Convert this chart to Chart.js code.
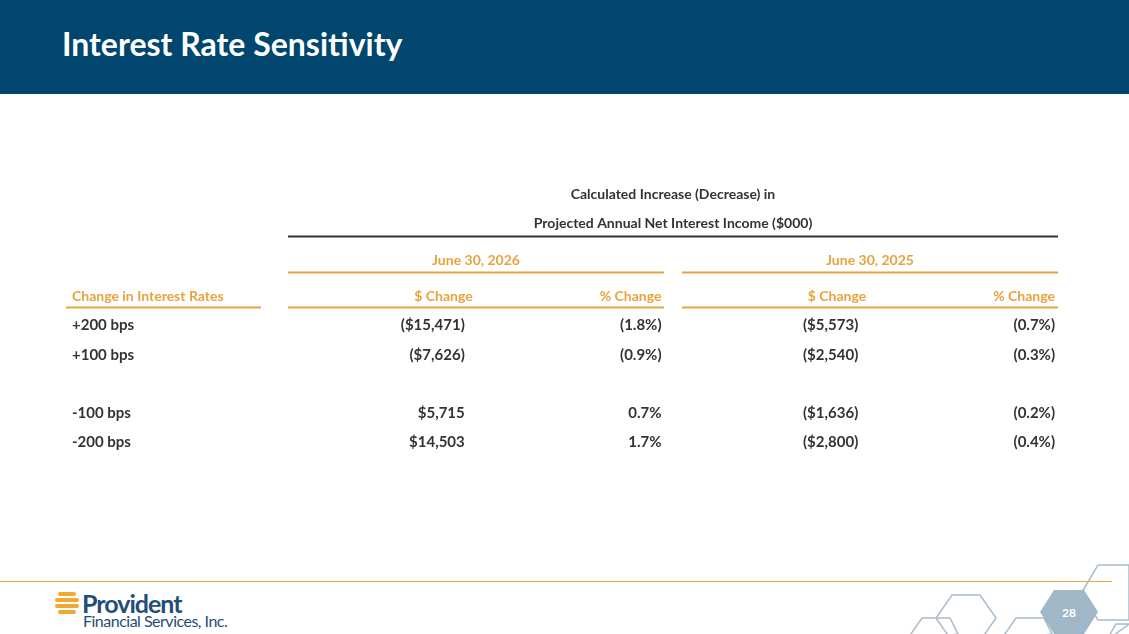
<!DOCTYPE html>
<html><head><meta charset="utf-8">
<script src="https://cdn.jsdelivr.net/npm/chart.js@4"></script>
<style>
body{margin:0;width:1129px;height:634px;overflow:hidden;background:#fff;font-family:Lato,sans-serif;position:relative}
#bar{position:absolute;left:0;top:0;width:1129px;height:94px;background:#00466e}
#bar h1{margin:0;position:absolute;left:62px;top:24px;color:#fff;font:bold 32px Lato,sans-serif}
#foot{position:absolute;left:0;top:581px;width:1112px;height:1px;background:#e8a33d}
#logo{position:absolute;left:82px;top:588px;color:#1f4e79;font:bold 25px "Liberation Sans Narrow",Lato,sans-serif;letter-spacing:-1px}
#logo2{position:absolute;left:83px;top:611px;color:#1f4e79;font:16px "Liberation Sans Narrow",Lato,sans-serif;letter-spacing:-0.5px}
#wrap{position:absolute;left:0;top:0;width:1129px;height:634px}
svg{position:absolute;left:0;top:0}
</style></head><body>
<div id="bar"><h1>Interest Rate Sensitivity</h1></div>
<div id="foot"></div>
<svg width="1129" height="634">
<g fill="#f0a830"><rect x="58" y="592" width="18" height="4" rx="2"/><rect x="55" y="598" width="24" height="4" rx="2"/><rect x="55" y="604" width="24" height="4" rx="2"/><rect x="58" y="610" width="18" height="4" rx="2"/></g>
<g fill="none" stroke="#a9bccb" stroke-width="1.5">
<polygon points="952,595 980,595 996,618 980,641 952,641 936,618"/>
<polygon points="906,641 922,618 950,618 958,634"/>
<polygon points="1098,565 1129,565 1129,620 1098,620 1082,592"/>
<polygon points="1000,641 1016,618 1044,618 1052,634"/>
<polygon points="1106,641 1116,624 1129,624"/>
</g>
<polygon points="1054,590 1084,590 1098,612 1084,634 1054,634 1040,612" fill="#9fb7c6"/>
<text x="1069" y="617" fill="#fff" font-family="Lato" font-weight="bold" font-size="12" text-anchor="middle">28</text>
</svg>
<div id="logo">Provident</div>
<div id="logo2">Financial Services, Inc.</div>
<div id="wrap"><canvas id="c"></canvas></div>
<script>
const rates = ["+200 bps", "+100 bps", "", "-100 bps", "-200 bps"];
const columns = ["$ Change", "% Change", "$ Change", "% Change"];
const periods = ["June 30, 2026", "June 30, 2025"];
const dollar2026 = ["($15,471)", "($7,626)", "", "$5,715", "$14,503"];
const pct2026 = ["(1.8%)", "(0.9%)", "", "0.7%", "1.7%"];
const dollar2025 = ["($5,573)", "($2,540)", "", "($1,636)", "($2,800)"];
const pct2025 = ["(0.7%)", "(0.3%)", "", "(0.2%)", "(0.4%)"];
const titleLines = ["Calculated Increase (Decrease) in", "Projected Annual Net Interest Income ($000)"];

const ORANGE = "#e8a33d", TXT = "#333";

const tablePlugin = {
id: "table",
afterDraw(chart) {
const ctx = chart.ctx, x = chart.scales.x, y = chart.scales.y;
const cols = [dollar2026, pct2026, dollar2025, pct2025];
const labX = 72;
const blockL = 288, blockR = 1058;
const mid = 673;
const y0 = y.getPixelForValue(0);
ctx.save();
ctx.textBaseline = "middle";
// body
ctx.font = "bold 15px Lato";
ctx.fillStyle = TXT;
rates.forEach((r, i) => {
const py = y.getPixelForValue(i);
ctx.textAlign = "left";
ctx.fillText(r, labX, py);
ctx.textAlign = "right";
cols.forEach((c, j) => ctx.fillText(c[i], x.getPixelForValue(j + 1), py));
});
// column headers
const hy = y0 - 29;
ctx.font = "bold 14px Lato";
ctx.fillStyle = ORANGE;
ctx.textAlign = "left";
ctx.fillText("Change in Interest Rates", labX, hy);
ctx.textAlign = "right";
columns.forEach((c, j) => ctx.fillText(c, x.getPixelForValue(j + 1) + (j % 2 ? 0 : 8), hy));
ctx.strokeStyle = ORANGE; ctx.lineWidth = 2;
const line = (a, b, yy) => { ctx.beginPath(); ctx.moveTo(a, yy); ctx.lineTo(b, yy); ctx.stroke(); };
line(66, 261, hy + 11);
line(blockL, mid - 9, hy + 11);
line(mid + 9, blockR, hy + 11);
// period headers
const py2 = hy - 36;
ctx.textAlign = "center";
ctx.fillText(periods[0], (blockL + mid - 9) / 2, py2);
ctx.fillText(periods[1], (mid + 9 + blockR) / 2, py2);
line(blockL, mid - 9, py2 + 12);
line(mid + 9, blockR, py2 + 12);
// title
ctx.fillStyle = TXT;
ctx.font = "bold 14px Lato";
const cx = (blockL + blockR) / 2;
ctx.fillText(titleLines[0], cx, py2 - 66);
ctx.fillText(titleLines[1], cx, py2 - 37);
ctx.strokeStyle = "#333";
line(blockL, blockR, py2 - 24);
ctx.restore();
}
};

new Chart(document.getElementById("c"), {
type: "bar",
data: { labels: rates, datasets: [{ data: [] }] },
options: {
responsive: true,
maintainAspectRatio: false,
animation: false,
events: [],
layout: { padding: { left: 268, right: 74, top: 311, bottom: 177 } },
plugins: { legend: { display: false }, tooltip: { enabled: false } },
scales: {
x: { type: "linear", min: 0, max: 4, display: false, offset: false },
y: { type: "category", display: false, offset: true }
}
},
plugins: [tablePlugin]
});
</script>
</body></html>
